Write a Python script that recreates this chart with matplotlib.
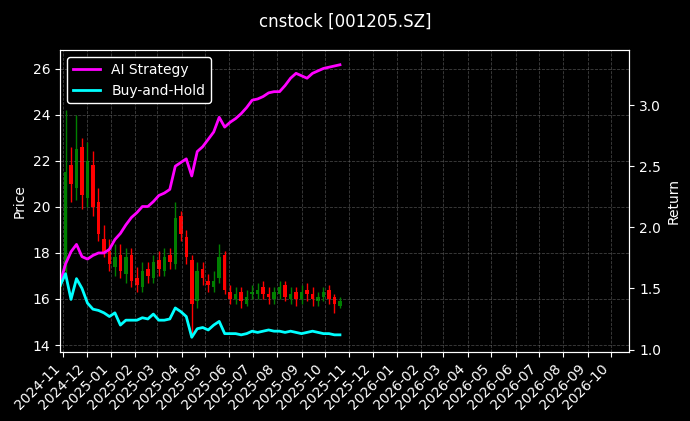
import numpy as np
import pandas as pd
import matplotlib
matplotlib.use("Agg")
import matplotlib.pyplot as plt
import matplotlib.dates as mdates

# weekly samples
dates = pd.date_range("2024-10-28", periods=52, freq="7D")
close = [17.0, 21.5, 21.0, 22.5, 20.5, 22.0, 20.0, 18.8, 18.0, 17.5, 17.8, 17.2, 17.8,
         16.8, 16.6, 17.2, 17.0, 17.6, 17.3, 17.8, 17.6, 19.5, 18.8, 17.8, 15.8, 17.2,
         16.9, 16.6, 16.8, 17.8, 16.4, 16.0, 16.2, 15.9, 16.1, 16.3, 16.4, 16.2, 16.1,
         16.3, 16.5, 16.1, 16.2, 16.0, 16.3, 16.2, 16.0, 16.1, 16.3, 16.0, 15.8, 15.9]
open_ = [16.5, 17.2, 21.8, 20.8, 22.6, 20.4, 21.8, 20.2, 18.6, 18.1, 17.4, 17.9, 17.1,
         17.9, 16.9, 16.5, 17.3, 16.9, 17.7, 17.2, 17.9, 17.5, 19.6, 18.7, 17.7, 15.9,
         17.3, 16.8, 16.5, 16.9, 17.9, 16.3, 16.0, 16.3, 15.8, 16.2, 16.2, 16.5, 16.2,
         16.0, 16.2, 16.6, 16.0, 16.3, 16.0, 16.4, 16.2, 15.9, 16.1, 16.4, 16.1, 15.7]
high = [17.6, 24.2, 22.6, 24.0, 23.0, 22.8, 22.4, 20.8, 19.2, 18.6, 18.4, 18.4, 18.2,
        18.2, 17.4, 17.6, 17.6, 17.9, 18.1, 18.2, 18.2, 20.2, 19.8, 19.0, 17.9, 17.6,
        17.6, 17.1, 17.2, 18.4, 18.1, 16.6, 16.5, 16.5, 16.4, 16.6, 16.7, 16.8, 16.5,
        16.5, 16.8, 16.8, 16.5, 16.5, 16.6, 16.7, 16.5, 16.3, 16.5, 16.6, 16.2, 16.1]
low = [16.2, 16.9, 20.2, 20.3, 19.9, 20.0, 19.6, 18.5, 17.8, 17.2, 17.0, 16.9, 16.7,
       16.5, 16.3, 16.3, 16.7, 16.7, 17.0, 17.0, 17.3, 17.3, 18.5, 17.5, 14.5, 15.6,
       16.6, 16.3, 16.3, 16.7, 16.2, 15.8, 15.8, 15.6, 15.7, 16.0, 16.0, 16.0, 15.8,
       15.8, 16.0, 15.9, 15.8, 15.7, 15.8, 15.9, 15.7, 15.7, 15.9, 15.8, 15.4, 15.6]
ai_strategy = [1.54, 1.70, 1.80, 1.86, 1.76, 1.74, 1.77, 1.79, 1.79, 1.82, 1.90, 1.95, 2.02,
               2.08, 2.12, 2.17, 2.17, 2.21, 2.26, 2.28, 2.31, 2.50, 2.53, 2.56, 2.42, 2.62,
               2.66, 2.72, 2.78, 2.90, 2.82, 2.86, 2.89, 2.93, 2.98, 3.04, 3.05, 3.07, 3.10,
               3.11, 3.11, 3.16, 3.22, 3.26, 3.24, 3.22, 3.26, 3.28, 3.30, 3.31, 3.32, 3.33]
buy_hold = [1.52, 1.62, 1.41, 1.58, 1.50, 1.38, 1.33, 1.32, 1.30, 1.27, 1.30, 1.20, 1.24,
            1.24, 1.24, 1.26, 1.25, 1.29, 1.24, 1.24, 1.25, 1.34, 1.31, 1.27, 1.10, 1.17,
            1.18, 1.16, 1.20, 1.23, 1.13, 1.13, 1.13, 1.12, 1.13, 1.15, 1.14, 1.15, 1.16,
            1.15, 1.15, 1.14, 1.15, 1.14, 1.13, 1.14, 1.15, 1.14, 1.13, 1.13, 1.12, 1.12]

plt.style.use("dark_background")
fig = plt.figure(figsize=(6.9, 4.21), dpi=100)
ax = fig.add_axes([0.087, 0.164, 0.825, 0.717])
ax2 = ax.twinx()

x = mdates.date2num(dates)
for xi, o, c, h, l in zip(x, open_, close, high, low):
    col = "green" if c >= o else "red"
    ax.vlines(xi, l, h, color=col, linewidth=1.0)
    ax.bar(xi, abs(c - o) if c != o else 0.05, bottom=min(o, c), width=4.5, color=col)

ax2.plot(dates, ai_strategy, color="magenta", linewidth=2, label="AI Strategy")
ax2.plot(dates, buy_hold, color="cyan", linewidth=2, label="Buy-and-Hold")

ax.set_ylim(13.7, 26.8)
ax2.set_ylim(0.98, 3.45)
ax.set_xlim(mdates.date2num(pd.Timestamp("2024-10-28")), mdates.date2num(pd.Timestamp("2026-10-24")))
ax.xaxis.set_major_locator(mdates.MonthLocator())
ax.xaxis.set_major_formatter(mdates.DateFormatter("%Y-%m"))
plt.setp(ax.get_xticklabels(), rotation=45, ha="right")
ax.set_ylabel("Price")
ax2.set_ylabel("Return")
ax.grid(True, linestyle="--", color="gray", alpha=0.5, linewidth=0.6)
leg = ax2.legend(loc="upper left", facecolor="black", edgecolor="white", framealpha=1)
fig.suptitle("cnstock [001205.SZ]", y=0.97)

fig.savefig("out.png", dpi=100)
